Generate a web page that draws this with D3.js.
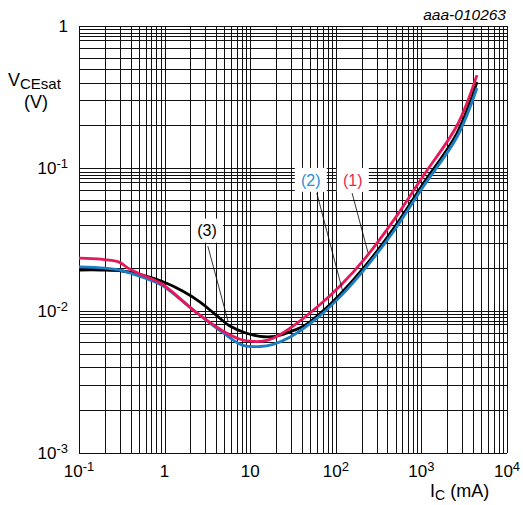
<!DOCTYPE html>
<meta charset="utf-8">
<script src="https://d3js.org/d3.v7.min.js"></script>
<style>
  body { margin: 0; background: #fff; }
  text { font-family: "Liberation Sans", Arial, sans-serif; }
</style>
<div id="chart"></div>
<script>
    // Curve (1), red
    var ic1  = [0.1, 0.18, 0.29, 0.39, 0.55, 0.93, 2.3, 4.8, 7.6, 10, 14, 18.5, 29, 65, 112, 231, 491, 1044, 2605, 4460];
    var vce1 = [0.0234, 0.023, 0.022, 0.0196, 0.0178, 0.0154, 0.0098, 0.0072, 0.0063, 0.0061, 0.0061, 0.0064, 0.0075, 0.011, 0.0149, 0.0242, 0.0445, 0.088, 0.2, 0.452];
    // Curve (2), blue
    var ic2  = [0.1, 0.2, 0.3, 0.39, 0.55, 0.93, 2.3, 4.8, 8.2, 13, 18.5, 29, 65, 112, 231, 491, 1044, 2605, 4460];
    var vce2 = [0.0203, 0.0199, 0.0193, 0.0184, 0.0172, 0.0151, 0.0098, 0.007, 0.0057, 0.0056, 0.0058, 0.0065, 0.0092, 0.0125, 0.0205, 0.0372, 0.074, 0.166, 0.367];
    // Curve (3), black
    var ic3  = [0.1, 0.18, 0.32, 0.55, 0.93, 1.64, 2.6, 4, 5.8, 8.7, 13, 19.5, 29, 44, 65, 112, 231, 491, 1044, 2605, 4460];
    var vce3 = [0.0193, 0.0193, 0.019, 0.0178, 0.0161, 0.0137, 0.0115, 0.0093, 0.0078, 0.007, 0.0066, 0.0066, 0.0071, 0.0079, 0.0095, 0.013, 0.0213, 0.039, 0.0776, 0.177, 0.404];

    var xTicks = [0.1, 1, 10, 100, 1000, 10000];
    var xTickBase = ["10", "1", "10", "10", "10", "10"];
    var xTickExp = ["-1", "", "", "2", "3", "4"];
    var yTicks = [1, 0.1, 0.01, 0.001];
    var yTickBase = ["1", "10", "10", "10"];
    var yTickExp = ["", "-1", "-2", "-3"];

    // curve labels and their leader lines (in data units)
    var labelText = ["(1)", "(2)", "(3)"];
    var labelColor = ["#e8294f", "#2a8ed3", "#000"];
    var labelI = [158, 51, 3.13];
    var labelV = [0.083, 0.083, 0.0365];
    var leadFromI = [155, 60, 3.2];
    var leadFromV = [0.067, 0.067, 0.0284];
    var leadToI = [238, 121, 5.5];
    var leadToV = [0.0255, 0.0135, 0.00845];

    var width = 523, height = 505;

    var svg = d3.select("#chart").append("svg")
        .attr("width", width)
        .attr("height", height);

    var x = d3.scaleLog().domain([0.1, 1e4]).range([79, 507]);
    var y = d3.scaleLog().domain([1e-3, 1]).range([453, 26]);

    // grid
    var xGrid = [];
    [0.1, 1, 10, 100, 1000].forEach(function (d) {
        for (var m = 1; m < 10; m++) xGrid.push(d * m);
    });
    xGrid.push(1e4);
    var yGrid = [];
    [0.001, 0.01, 0.1].forEach(function (d) {
        [1, 2, 3, 4, 5, 6, 7, 8, 8.5, 9, 9.5].forEach(function (m) { yGrid.push(d * m); });
    });
    yGrid.push(1);

    var grid = svg.append("g").attr("stroke", "#111").attr("stroke-width", 1);
    grid.selectAll(".vx").data(xGrid).enter().append("line")
        .attr("x1", function (d) { return Math.round(x(d)) + 0.5; })
        .attr("x2", function (d) { return Math.round(x(d)) + 0.5; })
        .attr("y1", y(1)).attr("y2", y(1e-3));
    grid.selectAll(".hy").data(yGrid).enter().append("line")
        .attr("y1", function (d) { return Math.round(y(d)) + 0.5; })
        .attr("y2", function (d) { return Math.round(y(d)) + 0.5; })
        .attr("x1", x(0.1)).attr("x2", x(1e4));

    // curves
    var line = d3.line()
        .x(function (d) { return x(d[0]); })
        .y(function (d) { return y(d[1]); })
        .curve(d3.curveCatmullRom.alpha(0.5));

    var curves = [
        { i: ic3, v: vce3, color: "#000" },
        { i: ic2, v: vce2, color: "#1b7dc4" },
        { i: ic1, v: vce1, color: "#e6175a" }
    ];
    curves.forEach(function (c) {
        svg.append("path")
            .attr("d", line(d3.zip(c.i, c.v)))
            .attr("fill", "none")
            .attr("stroke", c.color)
            .attr("stroke-width", 2.8);
    });

    // labels with white boxes
    labelText.forEach(function (t, k) {
        svg.append("line")
            .attr("x1", x(leadFromI[k])).attr("y1", y(leadFromV[k]))
            .attr("x2", x(leadToI[k])).attr("y2", y(leadToV[k]))
            .attr("stroke", "#000").attr("stroke-width", 0.8);
        svg.append("rect")
            .attr("x", x(labelI[k]) - 16).attr("y", y(labelV[k]) - 12)
            .attr("width", 32).attr("height", 24)
            .attr("fill", "#fff");
        svg.append("text")
            .attr("x", x(labelI[k])).attr("y", y(labelV[k]))
            .attr("dy", "0.36em")
            .attr("text-anchor", "middle")
            .attr("font-size", 16)
            .attr("fill", labelColor[k])
            .text(t);
    });

    // axis tick labels
    var xt = svg.append("g").selectAll("text").data(xTicks).enter().append("text")
        .attr("x", function (d) { return x(d); })
        .attr("y", 477)
        .attr("text-anchor", "middle")
        .attr("font-size", 17);
    xt.append("tspan").text(function (d, i) { return xTickBase[i]; });
    xt.append("tspan").attr("dy", "-0.45em").attr("font-size", 13)
        .text(function (d, i) { return xTickExp[i]; });

    var yt = svg.append("g").selectAll("text").data(yTicks).enter().append("text")
        .attr("x", 68)
        .attr("y", function (d) { return y(d) + 6; })
        .attr("text-anchor", "end")
        .attr("font-size", 17);
    yt.append("tspan").text(function (d, i) { return yTickBase[i]; });
    yt.append("tspan").attr("dy", "-0.45em").attr("font-size", 13)
        .text(function (d, i) { return yTickExp[i]; });

    // axis titles
    var yl = svg.append("text").attr("x", 8).attr("y", 86).attr("font-size", 18);
    yl.append("tspan").text("V");
    yl.append("tspan").attr("dy", 3).attr("font-size", 15).text("CEsat");
    svg.append("text").attr("x", 36).attr("y", 108).attr("text-anchor", "middle")
        .attr("font-size", 18).text("(V)");

    var xl = svg.append("text").attr("x", 430).attr("y", 497).attr("font-size", 18);
    xl.append("tspan").text("I");
    xl.append("tspan").attr("dy", 3).attr("font-size", 14).text("C");
    xl.append("tspan").attr("dy", -3).text(" (mA)");

    svg.append("text").attr("x", 506).attr("y", 20)
        .attr("text-anchor", "end")
        .attr("font-size", 15.5)
        .attr("font-style", "italic")
        .text("aaa-010263");
</script>
